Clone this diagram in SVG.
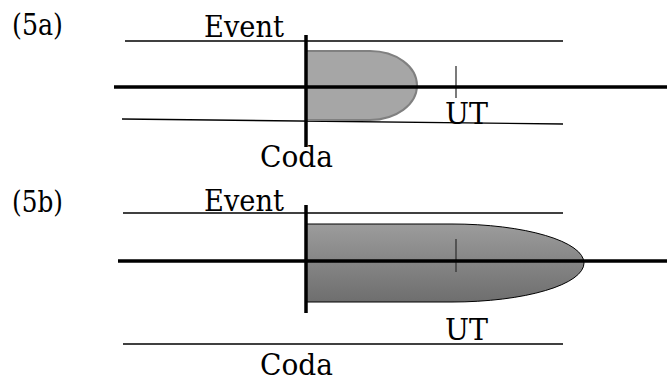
<svg xmlns="http://www.w3.org/2000/svg" width="667" height="383" viewBox="0 0 667 383">
<style>
.t{font-family:"DejaVu Serif","Liberation Serif",serif;font-size:30px;fill:#000}
.thin{stroke:#000;stroke-width:1.3;fill:none}
.thick{stroke:#000;stroke-width:3.5;fill:none}
.tick{stroke:#333;stroke-width:1.3;fill:none}
</style>
<defs>
<linearGradient id="g" x1="0" y1="0" x2="0" y2="1">
<stop offset="0" stop-color="#9c9c9c"/>
<stop offset="1" stop-color="#6e6e6e"/>
</linearGradient>
</defs>
<rect width="667" height="383" fill="#fff"/>
<g id="panel-5a">
<text class="t" x="12" y="35" textLength="51" lengthAdjust="spacingAndGlyphs">(5a)</text>
<g id="event-5a"><line class="thin" x1="125" y1="41" x2="563" y2="41"/><text class="t" x="204" y="37" textLength="80" lengthAdjust="spacingAndGlyphs">Event</text></g>
<g id="coda-5a"><line class="thin" x1="122" y1="119" x2="563" y2="124"/><text class="t" x="260" y="167" textLength="73" lengthAdjust="spacingAndGlyphs">Coda</text></g>
<g id="shape-5a"><path d="M306,51 H370 A47,34.5 0 0 1 370,120 H306 Z" fill="#a6a6a6" stroke="#808080" stroke-width="2"/></g>
<g id="ut-5a"><line class="tick" x1="456" y1="66" x2="456" y2="98"/><text class="t" x="445" y="124" textLength="43" lengthAdjust="spacingAndGlyphs">UT</text></g>
<g id="axes-5a"><line class="thick" x1="114" y1="87" x2="667" y2="87"/><line class="thick" x1="306" y1="35" x2="306" y2="147"/></g>
</g>
<g id="panel-5b">
<text class="t" x="12" y="212" textLength="51" lengthAdjust="spacingAndGlyphs">(5b)</text>
<g id="event-5b"><line class="thin" x1="123" y1="213" x2="563" y2="213"/><text class="t" x="204" y="211" textLength="80" lengthAdjust="spacingAndGlyphs">Event</text></g>
<g id="shape-5b"><path d="M306,224 H452 A132,39 0 0 1 452,302 H306 Z" fill="url(#g)" stroke="#000" stroke-width="1"/></g>
<g id="ut-5b"><line class="tick" x1="456" y1="239" x2="456" y2="272"/><text class="t" x="445" y="340" textLength="43" lengthAdjust="spacingAndGlyphs">UT</text></g>
<g id="coda-5b"><line class="thin" x1="123" y1="344" x2="563" y2="344"/><text class="t" x="260" y="375" textLength="73" lengthAdjust="spacingAndGlyphs">Coda</text></g>
<g id="axes-5b"><line class="thick" x1="118" y1="261" x2="667" y2="261"/><line class="thick" x1="306" y1="205" x2="306" y2="313"/></g>
</g>
</svg>
